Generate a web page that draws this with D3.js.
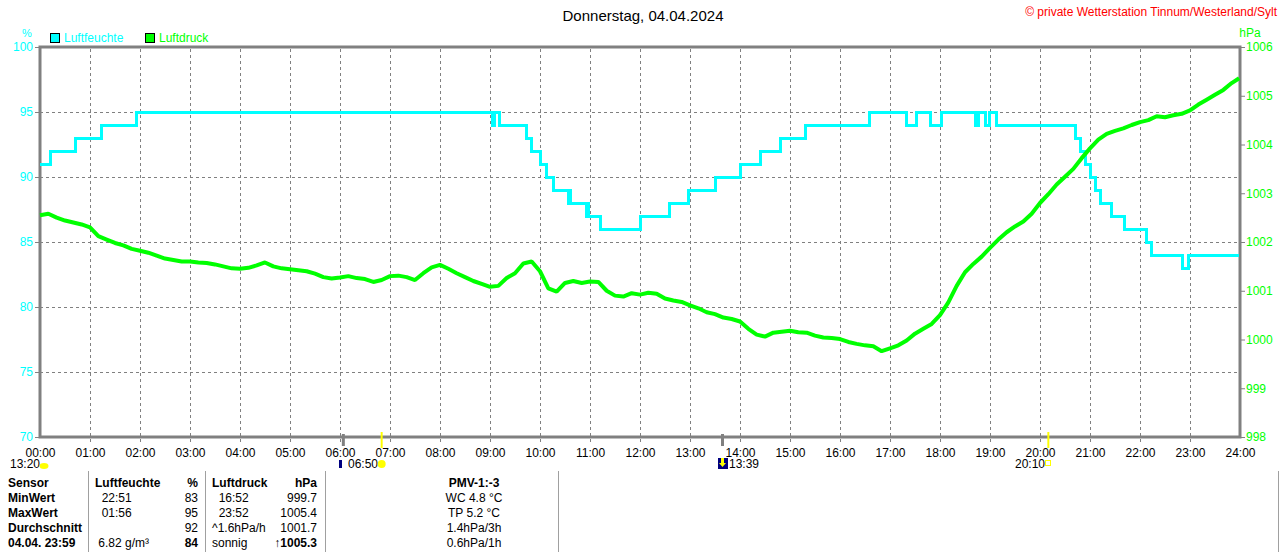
<!DOCTYPE html>
<html>
<head>
<meta charset="utf-8">
<script src="https://cdn.jsdelivr.net/npm/d3@7"></script>
<style>
  body { margin: 0; background: #fff; }
  svg { display: block; font-family: "Liberation Sans", Arial, sans-serif; }
</style>
</head>
<body>
<svg id="chart" width="1280" height="552"></svg>
<script>
// humidity (%) as steps: time of change -> new value
const humTimes = ["00:00","00:13","00:43","01:14","01:56","09:03","09:05","09:11","09:44","09:50",
  "10:01","10:08","10:16","10:34","10:35","10:37","10:56","10:57","10:58","11:13",
  "12:00","12:35","12:58","13:31","14:00","14:24","14:48","15:19","16:35","17:20",
  "17:32","17:49","18:02","18:43","18:46","18:55","18:59","19:08","20:43","20:49",
  "20:54","21:00","21:06","21:13","21:26","21:41","22:08","22:14","22:51","22:58","23:59"]
const humValues = [91,92,93,94,95,94,95,94,93,92,
  91,90,89,88,89,88,87,88,87,86,
  87,88,89,90,91,92,93,94,95,94,
  95,94,95,94,95,94,95,94,93,92,
  91,90,89,88,87,86,85,84,83,84,84]

// air pressure (hPa), one reading every 10 minutes from 00:00
const pressValues = [
  1002.55,1002.58,1002.50,1002.44,1002.40,1002.36,1002.30,1002.12,1002.05,1001.98,1001.93,1001.86,
  1001.82,1001.78,1001.72,1001.66,1001.63,1001.60,1001.60,1001.58,1001.57,1001.54,1001.50,1001.46,
  1001.45,1001.47,1001.52,1001.58,1001.50,1001.46,1001.44,1001.42,1001.40,1001.35,1001.28,1001.25,
  1001.27,1001.30,1001.26,1001.24,1001.18,1001.22,1001.30,1001.31,1001.28,1001.22,1001.36,1001.48,
  1001.53,1001.45,1001.36,1001.28,1001.20,1001.14,1001.08,1001.10,1001.26,1001.36,1001.56,1001.60,
  1001.40,1001.05,1000.98,1001.16,1001.20,1001.16,1001.19,1001.18,1001.00,1000.90,1000.88,1000.95,
  1000.92,1000.96,1000.94,1000.84,1000.80,1000.77,1000.70,1000.64,1000.56,1000.52,1000.45,1000.42,
  1000.37,1000.22,1000.10,1000.06,1000.14,1000.16,1000.18,1000.15,1000.14,1000.08,1000.04,1000.03,
  1000.01,999.95,999.91,999.88,999.86,999.76,999.82,999.88,999.98,1000.12,1000.22,1000.32,
  1000.50,1000.76,1001.10,1001.38,1001.55,1001.70,1001.88,1002.05,1002.20,1002.32,1002.42,1002.58,
  1002.80,1002.98,1003.18,1003.34,1003.50,1003.72,1003.92,1004.10,1004.22,1004.28,1004.33,1004.40,
  1004.46,1004.50,1004.58,1004.56,1004.60,1004.63,1004.70,1004.82,1004.92,1005.02,1005.12,1005.26,
  1005.36]

const hourLabels = ["00:00","01:00","02:00","03:00","04:00","05:00","06:00","07:00","08:00","09:00",
  "10:00","11:00","12:00","13:00","14:00","15:00","16:00","17:00","18:00","19:00",
  "20:00","21:00","22:00","23:00","24:00"]
const humTicks = [70,75,80,85,90,95,100]
const pressTicks = [998,999,1000,1001,1002,1003,1004,1005,1006]

// sun / moon events on the time axis
const events = [
  { time: "06:04", kind: "moon" },
  { time: "06:50", kind: "sun" },
  { time: "13:39", kind: "moon" },
  { time: "20:10", kind: "sun" }
]

// summary table
const tableRows = [
  ["Sensor", "Luftfeuchte", "%", "Luftdruck", "hPa", "PMV-1:-3"],
  ["MinWert", "  22:51", "83", "  16:52", "999.7", "WC 4.8 °C"],
  ["MaxWert", "  01:56", "95", "  23:52", "1005.4", "TP 5.2 °C"],
  ["Durchschnitt", "", "92", "^1.6hPa/h", "1001.7", "1.4hPa/3h"],
  ["04.04. 23:59", " 6.82 g/m³", "84", "sonnig", "↑1005.3", "0.6hPa/1h"]
]

const toHours = t => { const p = t.split(":"); return +p[0] + p[1] / 60 }

const svg = d3.select("#chart")
const plotLeft = 40, plotRight = 1240, plotTop = 47, plotBottom = 437
const cyan = "#00ffff", green = "#00ff00", gray = "#808080"

const x = d3.scaleLinear().domain([0, 24]).range([plotLeft, plotRight])
const yH = d3.scaleLinear().domain([70, 100]).range([plotBottom, plotTop])
const yP = d3.scaleLinear().domain([998, 1006]).range([plotBottom, plotTop])

// grid
const grid = svg.append("g").attr("stroke", gray).attr("stroke-width", 1).attr("stroke-dasharray", "3,3")
  .attr("shape-rendering", "crispEdges")
grid.selectAll(".v").data(d3.range(1, 24)).join("line")
  .attr("x1", d => x(d) + 0.5).attr("x2", d => x(d) + 0.5)
  .attr("y1", plotTop + 2).attr("y2", plotBottom + 6)
grid.selectAll(".h").data(humTicks.slice(1, -1)).join("line")
  .attr("x1", plotLeft).attr("x2", plotRight)
  .attr("y1", d => yH(d) + 0.5).attr("y2", d => yH(d) + 0.5)

// frame
svg.append("rect").attr("x", plotLeft).attr("y", plotTop)
  .attr("width", plotRight - plotLeft).attr("height", plotBottom - plotTop)
  .attr("fill", "none").attr("stroke", gray).attr("stroke-width", 3)

// left axis
const axL = svg.append("g").attr("transform", "translate(" + plotLeft + ",0)")
  .call(d3.axisLeft(yH).tickValues(humTicks).tickSize(5).tickPadding(2))
axL.select(".domain").remove()
axL.selectAll("line").attr("stroke", gray)
axL.selectAll("text").attr("fill", cyan).attr("font-size", 12).attr("font-family", "Liberation Sans, Arial")

// right axis
const axR = svg.append("g").attr("transform", "translate(" + plotRight + ",0)")
  .call(d3.axisRight(yP).tickValues(pressTicks).tickSize(5).tickPadding(1).tickFormat(d3.format("d")))
axR.select(".domain").remove()
axR.selectAll("line").attr("stroke", gray)
axR.selectAll("text").attr("fill", green).attr("font-size", 12).attr("font-family", "Liberation Sans, Arial")

// bottom axis labels
const axB = svg.append("g").attr("transform", "translate(0," + plotBottom + ")")
  .call(d3.axisBottom(x).tickValues(d3.range(0, 25)).tickSize(0).tickPadding(11)
    .tickFormat((d, i) => hourLabels[i]))
axB.select(".domain").remove()
axB.selectAll("text").attr("fill", "#000").attr("font-size", 12).attr("font-family", "Liberation Sans, Arial")

// event ticks on the axis
svg.selectAll(".ev").data(events).join("line")
  .attr("x1", d => x(toHours(d.time))).attr("x2", d => x(toHours(d.time)))
  .attr("y1", d => d.kind == "sun" ? plotBottom - 5 : plotBottom - 3)
  .attr("y2", d => d.kind == "sun" ? plotBottom + 11 : plotBottom + 9)
  .attr("stroke", d => d.kind == "sun" ? "#ffff00" : gray)
  .attr("stroke-width", d => d.kind == "sun" ? 2 : 3)

// series
const humData = humTimes.map((t, i) => ({ h: toHours(t), v: humValues[i] }))
const pressData = pressValues.map((v, i) => ({ h: Math.min(i * 10, 1439) / 60, v: v }))

svg.append("path").datum(humData)
  .attr("fill", "none").attr("stroke", cyan).attr("stroke-width", 3)
  .attr("shape-rendering", "crispEdges")
  .attr("d", d3.line().x(d => x(d.h)).y(d => yH(d.v)).curve(d3.curveStepAfter))

svg.append("path").datum(pressData)
  .attr("fill", "none").attr("stroke", green).attr("stroke-width", 4)
  .attr("stroke-linejoin", "bevel")
  .attr("d", d3.line().x(d => x(d.h)).y(d => yP(d.v)))

// titles and legend
svg.append("text").attr("x", 643).attr("y", 21).attr("text-anchor", "middle")
  .attr("font-size", 15).attr("fill", "#000").text("Donnerstag, 04.04.2024")
svg.append("text").attr("x", 1277).attr("y", 16).attr("text-anchor", "end")
  .attr("font-size", 12).attr("fill", "#ff0000").text("© private Wetterstation Tinnum/Westerland/Sylt")
svg.append("text").attr("x", 27).attr("y", 37).attr("text-anchor", "middle")
  .attr("font-size", 11).attr("fill", cyan).text("%")
svg.append("text").attr("x", 1250).attr("y", 37).attr("text-anchor", "middle")
  .attr("font-size", 12).attr("fill", green).text("hPa")

const legend = [{ name: "Luftfeuchte", color: cyan, x: 50 }, { name: "Luftdruck", color: green, x: 145 }]
const lg = svg.selectAll(".lg").data(legend).join("g")
lg.append("rect").attr("x", d => d.x + 0.5).attr("y", 33.5).attr("width", 9).attr("height", 9)
  .attr("fill", d => d.color).attr("stroke", "#000")
lg.append("text").attr("x", d => d.x + 14).attr("y", 42).attr("font-size", 12)
  .attr("fill", d => d.color).text(d => d.name)

// event labels below the axis
const evRow = 468
svg.append("text").attr("x", 10).attr("y", evRow).attr("font-size", 12).text("13:20")
svg.append("ellipse").attr("cx", 44).attr("cy", evRow - 2).attr("rx", 4.5).attr("ry", 3).attr("fill", "#ffff00")
svg.append("rect").attr("x", 339).attr("y", evRow - 8).attr("width", 3).attr("height", 8).attr("fill", "#000080")
svg.append("text").attr("x", 348).attr("y", evRow).attr("font-size", 12).text("06:50")
svg.append("circle").attr("cx", x(toHours("06:50"))).attr("cy", evRow - 4).attr("r", 4).attr("fill", "#ffff00")
svg.append("rect").attr("x", 718).attr("y", evRow - 10).attr("width", 10).attr("height", 11).attr("fill", "#000080")
svg.append("path").attr("d", "M721,458 L724,458 L724,463 L726,463 L722.5,467 L719,463 L721,463 Z").attr("fill", "#ffff00")
svg.append("text").attr("x", 729).attr("y", evRow).attr("font-size", 12).text("13:39")
svg.append("text").attr("x", 1015).attr("y", evRow).attr("font-size", 12).text("20:10")
svg.append("rect").attr("x", 1045.5).attr("y", evRow - 7.5).attr("width", 5).attr("height", 5)
  .attr("fill", "none").attr("stroke", "#ffff00")

// summary table
const sepX = [88, 205, 325, 558, 1278]
svg.selectAll(".sep").data(sepX).join("line")
  .attr("x1", d => d + 0.5).attr("x2", d => d + 0.5).attr("y1", 471).attr("y2", 552)
  .attr("stroke", "#a0a0a0")

const cols = [
  { x: 8, anchor: "start" }, { x: 95, anchor: "start" }, { x: 198, anchor: "end" },
  { x: 212, anchor: "start" }, { x: 317, anchor: "end" }, { x: 474, anchor: "middle" }
]
const boldCell = (r, c) => r == 0 || c == 0 || (r == 4 && (c == 2 || c == 4))
tableRows.forEach((row, r) => {
  row.forEach((cell, c) => {
    svg.append("text").attr("x", cols[c].x).attr("y", 487 + r * 15)
      .attr("text-anchor", cols[c].anchor).attr("font-size", 12)
      .attr("font-weight", boldCell(r, c) ? "bold" : "normal")
      .style("white-space", "pre")
      .attr("fill", "#000").text(cell)
  })
})
</script>
</body>
</html>
